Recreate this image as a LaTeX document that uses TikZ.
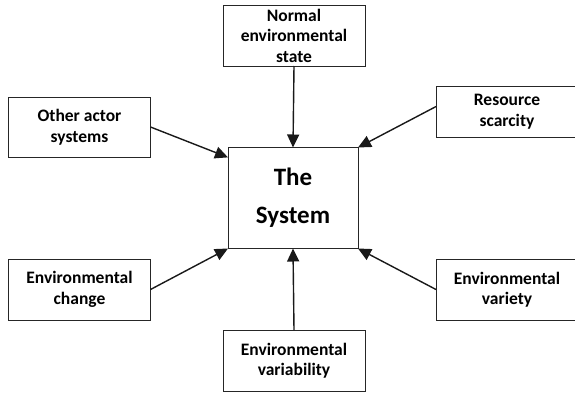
\documentclass[tikz,border=0pt]{standalone}
\usepackage{fontspec}
\setmainfont{Carlito}
\usetikzlibrary{arrows.meta}
\begin{document}
\begin{tikzpicture}[x=1pt,y=-1pt,
  factor/.style={draw=black!85,line width=0.9pt,inner sep=0pt,outer sep=0pt,
    minimum width=142pt,minimum height=61pt,align=center,
    font=\fontsize{17.5}{20.5}\selectfont\bfseries},
  core/.style={draw=black!85,line width=0.9pt,inner sep=0pt,outer sep=0pt,
    minimum width=130pt,minimum height=101pt,align=center,
    font=\fontsize{25}{38}\selectfont\bfseries},
  influence/.style={draw=black!90,line width=1.4pt,
    -{Triangle[length=13pt,width=12pt]}}]
\clip (0,0) rectangle (575,394);
\fill[white] (0,0) rectangle (575,394);
\node[core] (sys) at (293,198) {The\\System};
\node[factor] (norm) at (294,35.5) {Normal\\environmental\\state};
\node[factor,minimum height=60pt] (oth) at (79.5,127) {Other actor\\systems};
\node[factor,minimum height=51pt] (res) at (507,111.5) {Resource\\scarcity};
\node[factor] (chg) at (79.5,289.5) {Environmental\\change};
\node[factor] (vab) at (294,360.5) {Environmental\\variability};
\node[factor] (vty) at (507,289.5) {Environmental\\variety};
\draw[influence] (norm.south) -- (sys.north);
\draw[influence] (oth.east) -- (sys.148);
\draw[influence] (res.176) -- (sys.north east);
\draw[influence] (chg.east) -- (sys.south west);
\draw[influence] (vab.north) -- (sys.south);
\draw[influence] (vty.west) -- (sys.south east);
\end{tikzpicture}
\end{document}
